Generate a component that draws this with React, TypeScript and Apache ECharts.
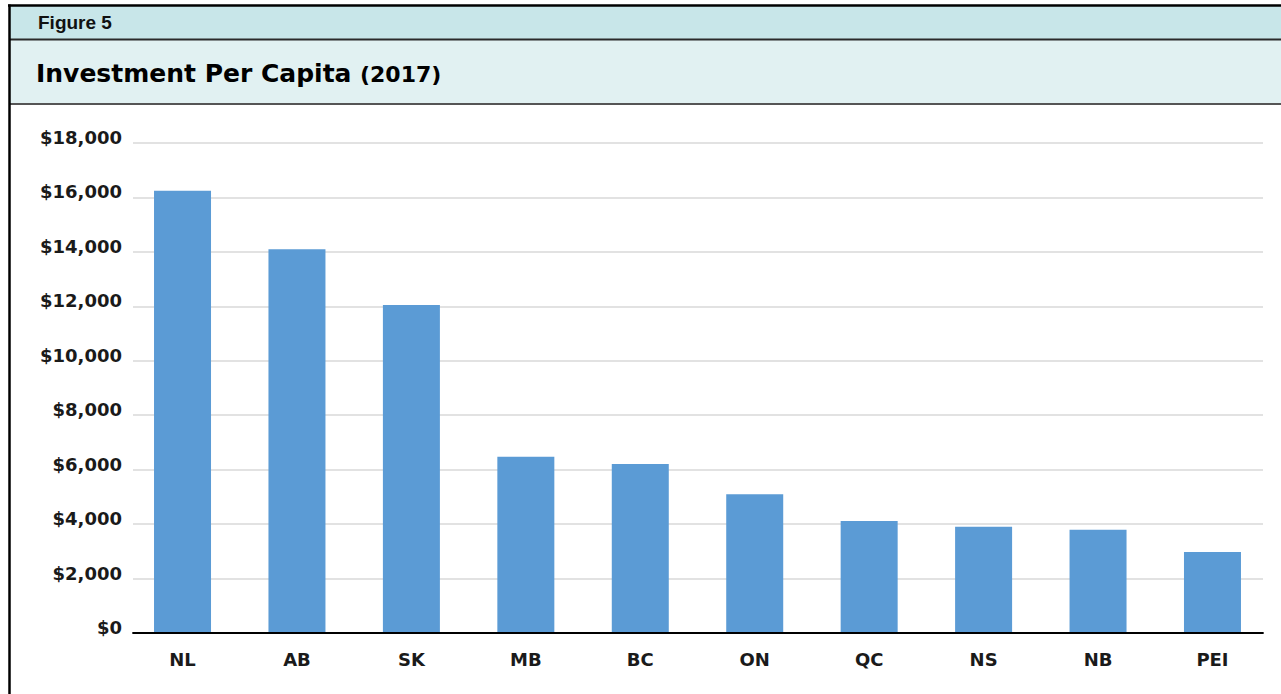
import React, { useEffect, useRef } from "react";
import * as echarts from "echarts";

const categories = ["NL", "AB", "SK", "MB", "BC", "ON", "QC", "NS", "NB", "PEI"];
const investmentPerCapita = [16250, 14100, 12050, 6470, 6210, 5100, 4110, 3900, 3790, 2980];
const yTicks = { min: 0, max: 18000, interval: 2000 };
const figureLabel = "Figure 5";
const titleMain = "Investment Per Capita";
const titleYear = "(2017)";

const fmt = (v: number) => "$" + v.toLocaleString("en-US");

export default function App() {
  const ref = useRef<HTMLDivElement>(null);
  useEffect(() => {
    if (!ref.current) return;
    const chart = echarts.init(ref.current, null, { renderer: "svg" });
    const labelFont = { fontFamily: "DejaVu Sans", fontWeight: "bold" as const, fontSize: 18, color: "#1a1a1a" };
    chart.setOption({
      animation: false,
      backgroundColor: "#ffffff",
      grid: [
        { left: 133, right: 18, top: 143, bottom: 61 },
        { left: 125.3, right: 11.3, top: 143, bottom: 61 },
      ],
      xAxis: [
        {
          type: "category",
          gridIndex: 0,
          data: categories,
          z: 5,
          axisLine: { lineStyle: { color: "#000", width: 1.8 } },
          axisTick: { show: false },
          axisLabel: { show: false },
        },
        {
          type: "category",
          gridIndex: 1,
          data: categories,
          axisLine: { show: false },
          axisTick: { show: false },
          axisLabel: { ...labelFont, margin: 17 },
        },
      ],
      yAxis: [
        {
          type: "value",
          gridIndex: 0,
          ...yTicks,
          axisLine: { show: false },
          axisTick: { show: false },
          splitLine: { lineStyle: { color: "#d9d9d9", width: 1.5 } },
          axisLabel: {
            ...labelFont,
            margin: 11,
            verticalAlign: "bottom",
            lineHeight: 11,
            formatter: (v: number) => fmt(v),
          },
        },
        {
          type: "value",
          gridIndex: 1,
          ...yTicks,
          show: false,
          splitLine: { show: false },
        },
      ],
      series: [
        {
          type: "bar",
          xAxisIndex: 1,
          yAxisIndex: 1,
          data: investmentPerCapita,
          barWidth: 57,
          itemStyle: { color: "#5b9bd5" },
        },
      ],
      graphic: [
        { type: "rect", z: -1, shape: { x: 9, y: 6, width: 1272, height: 33.5 }, style: { fill: "#c8e6e9" } },
        { type: "rect", z: -1, shape: { x: 9, y: 40, width: 1272, height: 63.5 }, style: { fill: "#e1f1f2" } },
        { type: "line", shape: { x1: 9, y1: 39.5, x2: 1281, y2: 39.5 }, style: { stroke: "#2a2a2a", lineWidth: 2 } },
        { type: "line", shape: { x1: 9, y1: 104, x2: 1281, y2: 104 }, style: { stroke: "#555", lineWidth: 2 } },
        { type: "line", shape: { x1: 8, y1: 5.5, x2: 1281, y2: 5.5 }, style: { stroke: "#000", lineWidth: 2.5 } },
        { type: "line", shape: { x1: 9.5, y1: 4.5, x2: 9.5, y2: 694 }, style: { stroke: "#000", lineWidth: 2.5 } },
        {
          type: "text",
          x: 38,
          y: 22,
          style: { text: figureLabel, fontFamily: "Liberation Sans", fontWeight: "bold", fontSize: 19, fill: "#111", verticalAlign: "middle" },
        },
        {
          type: "text",
          x: 36,
          y: 73,
          style: { text: titleMain, fontFamily: "DejaVu Sans", fontWeight: "bold", fontSize: 25, fill: "#000", verticalAlign: "middle" },
        },
        {
          type: "text",
          x: 360,
          y: 74,
          style: { text: titleYear, fontFamily: "DejaVu Sans", fontWeight: "bold", fontSize: 22, fill: "#000", verticalAlign: "middle" },
        },
      ],
    });
    return () => chart.dispose();
  }, []);
  return <div ref={ref} style={{ position: "absolute", left: 0, top: 0, width: 1281, height: 694 }} />;
}
